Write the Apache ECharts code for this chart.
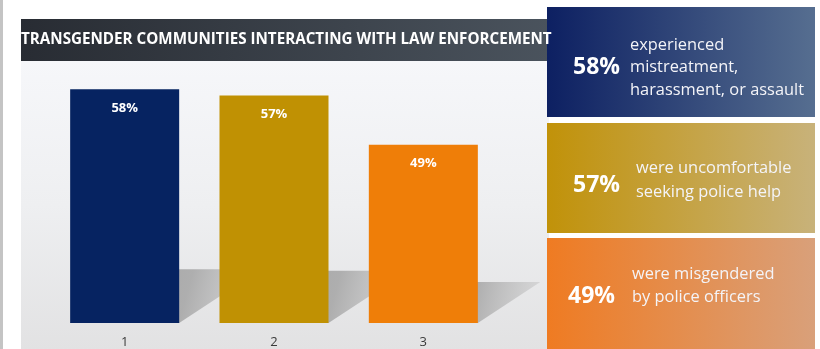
<!DOCTYPE html>
<html><head><meta charset="utf-8">
<script src="https://cdn.jsdelivr.net/npm/echarts@6/dist/echarts.min.js"></script>
<style>html,body{margin:0;padding:0;background:#fff}#c{width:820px;height:349px}</style>
</head><body><div id="c"></div>
<script>
const title = 'TRANSGENDER COMMUNITIES INTERACTING WITH LAW ENFORCEMENT';
const categories = ['1', '2', '3'];
const values = [58, 57, 49];
const valueLabels = ['58%', '57%', '49%'];
const barColors = ['#062361', '#c09103', '#ef7e08'];
const boxColors = [['#0d2062', '#566e90'], ['#c19209', '#c8b27a'], ['#ef7b22', '#d9a07a']];
const descriptions = [
  ['experienced', 'mistreatment,', 'harassment, or assault'],
  ['were uncomfortable', 'seeking police help'],
  ['were misgendered', 'by police officers']
];
const yMin = 20, yMax = 60;

const chart = echarts.init(document.getElementById('c'), null, {renderer: 'canvas'});

function grad(c1, c2) {
  return new echarts.graphic.LinearGradient(0, 0, 1, 0, [{offset: 0, color: c1}, {offset: 1, color: c2}]);
}

const boxes = [{y: 7, h: 110}, {y: 123, h: 110}, {y: 238, h: 111}];
const pctPos = [{x: 573, y: 67}, {x: 573, y: 185}, {x: 568, y: 296}];
const textPos = [{x: 630, y: 67.5}, {x: 636, y: 180}, {x: 632, y: 285.5}];
const lineHeights = [22.5, 24, 23];

const graphics = [
  {type: 'rect', z: -5, shape: {x: 0, y: 0, width: 3, height: 349}, style: {fill: '#c4c4c4'}},
  {type: 'rect', z: -5, shape: {x: 21, y: 61, width: 528, height: 288},
    style: {fill: new echarts.graphic.LinearGradient(0, 0, 0, 1, [{offset: 0, color: '#f6f7fa'}, {offset: 0.5, color: '#eeeff1'}, {offset: 1, color: '#e2e2e3'}])}},
  {type: 'polygon', z: 5, shape: {points: [[547, 7], [562, 19], [547, 19]]}, style: {fill: '#1c2333'}},
  {type: 'rect', z: 5, shape: {x: 21, y: 19, width: 541, height: 42}, style: {fill: grad('#282c33', '#4b545e')}},
  {type: 'text', z: 6, x: 21, y: 40, style: {text: title, fill: '#ffffff', font: 'bold 15.2px "Open Sans"', textVerticalAlign: 'middle'}}
];
boxes.forEach((b, i) => {
  graphics.push({type: 'rect', z: 5, shape: {x: 547, y: b.y, width: 268, height: b.h}, style: {fill: grad(boxColors[i][0], boxColors[i][1])}});
  graphics.push({type: 'text', z: 6, x: pctPos[i].x, y: pctPos[i].y, style: {text: valueLabels[i], fill: '#ffffff', font: 'bold 23px "Open Sans"', textVerticalAlign: 'middle'}});
  graphics.push({type: 'text', z: 6, x: textPos[i].x, y: textPos[i].y, style: {text: descriptions[i].join('\n'), fill: '#f4f4f8', font: '16.4px "Open Sans"', lineHeight: lineHeights[i], textVerticalAlign: 'middle'}});
});

chart.setOption({
  animation: false,
  grid: {left: 50, right: 322, top: 77, bottom: 25},
  xAxis: {type: 'category', data: categories, axisLine: {show: false}, axisTick: {show: false},
    axisLabel: {color: '#3a3a3a', fontSize: 13, margin: 13, fontFamily: 'Open Sans'}},
  yAxis: {type: 'value', min: yMin, max: yMax, show: false, splitLine: {show: false}},
  graphic: graphics,
  series: [
    {
      type: 'custom', z: 1,
      data: values.map((v, i) => [i, v]),
      renderItem: function (params, api) {
        const top = api.coord([api.value(0), api.value(1)]);
        const bot = api.coord([api.value(0), yMin]);
        const w = api.size([1, 0])[0] * 0.73;
        const h = bot[1] - top[1];
        const dx = 0.35 * h, dy = 0.23 * h;
        const xl = bot[0] - w / 2, xr = bot[0] + w / 2, yb = bot[1];
        return {
          type: 'polygon',
          shape: {points: [[xl, yb], [xr, yb], [xr + dx, yb - dy], [xl + dx, yb - dy]]},
          style: {fill: new echarts.graphic.LinearGradient(0, 0, 1, 1, [{offset: 0, color: 'rgba(150,150,150,0.95)'}, {offset: 0.6, color: 'rgba(160,160,160,0.8)'}, {offset: 1, color: 'rgba(190,190,190,0.35)'}])}
        };
      }
    },
    {
      type: 'bar', z: 2, barWidth: '73%',
      data: values.map((v, i) => ({value: v, itemStyle: {color: barColors[i]}})),
      label: {show: true, position: 'insideTop', distance: 12, color: '#ffffff', fontWeight: 'bold', fontSize: 13,
        fontFamily: 'Open Sans', formatter: p => valueLabels[p.dataIndex]}
    }
  ]
});
</script></body></html>
